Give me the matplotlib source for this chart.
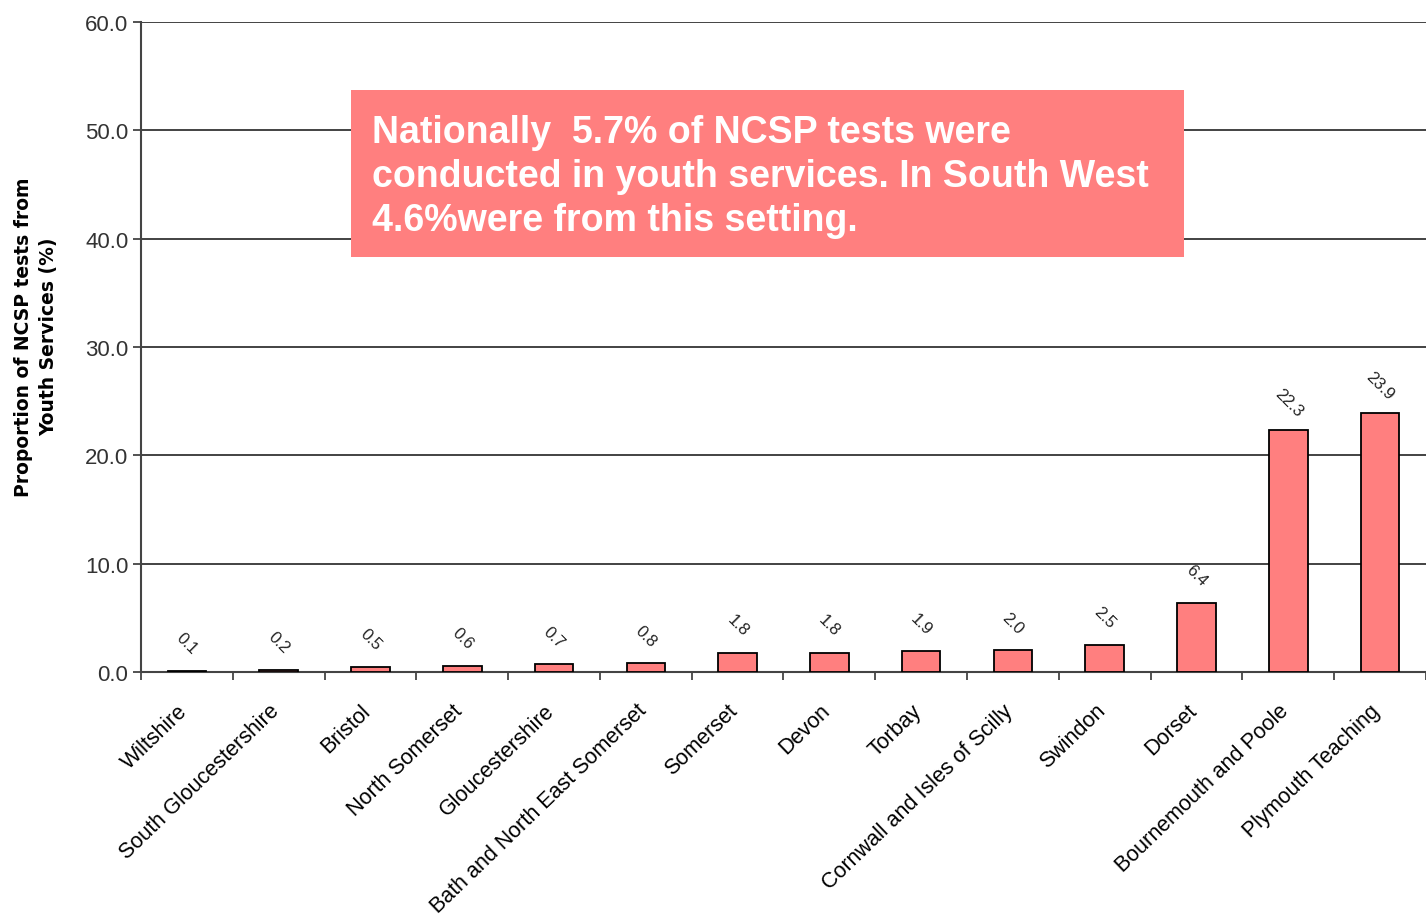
import numpy as np
import matplotlib
matplotlib.use('Agg')
import matplotlib.pyplot as plt

areas = ['Wiltshire', 'South Gloucestershire', 'Bristol', 'North Somerset',
         'Gloucestershire', 'Bath and North East Somerset', 'Somerset', 'Devon',
         'Torbay', 'Cornwall and Isles of Scilly', 'Swindon', 'Dorset',
         'Bournemouth and Poole', 'Plymouth Teaching']
values = [0.1, 0.2, 0.5, 0.6, 0.7, 0.8, 1.8, 1.8, 1.9, 2.0, 2.5, 6.4, 22.3, 23.9]
yticks = [0, 10, 20, 30, 40, 50, 60]
note = ('Nationally  5.7% of NCSP tests were\n'
        'conducted in youth services. In South West\n'
        '4.6%were from this setting.')

plt.rcParams['font.family'] = ['Liberation Sans', 'DejaVu Sans']

W, H = 1426, 920
fig = plt.figure(figsize=(W / 100, H / 100), dpi=100)
left, right, top, bottom = 141, 1426, 23, 673
ax = fig.add_axes([left / W, 1 - bottom / H, (right - left) / W, (bottom - top) / H])

x = np.arange(len(areas))
ax.bar(x, values, width=0.42, color='#FF7F7F', edgecolor='black', linewidth=1.3, zorder=3)

for xi, v in zip(x, values):
    ax.annotate('%.1f' % v, (xi, v), xytext=(0, 20), textcoords='offset points',
                rotation=-45, ha='center', va='center', fontsize=12, color='#222222',
                rotation_mode='anchor')

step = 93.2
ax.set_xlim(-0.5, -0.5 + (right - left) / step)
ax.set_ylim(0, 60)
ax.set_yticks(yticks)
ax.set_yticklabels(['%.1f' % t for t in yticks], fontsize=16, color='#333333')
ax.set_xticks(np.arange(len(areas) + 1) - 0.5, minor=False)
ax.set_xticklabels([])
# labels sit a little left of the bar centre, as in the original
ax.set_xticks(x - 0.11, minor=True)
ax.set_xticklabels(areas, minor=True, rotation=44, ha='right', rotation_mode='anchor',
                   fontsize=15.5)
ax.tick_params(axis='x', which='minor', length=0, pad=20)
ax.tick_params(axis='x', which='major', length=6, width=1.3, color='#444444')
ax.tick_params(axis='y', length=6, width=1.3, color='#444444', pad=3)

ax.yaxis.grid(True, color='#222222', linewidth=1.2, zorder=0)
ax.set_axisbelow(True)
for s in ['top', 'right']:
    ax.spines[s].set_visible(False)
for s in ['left', 'bottom']:
    ax.spines[s].set_color('#444444')
    ax.spines[s].set_linewidth(1.5)

fig.text(36 / W, 1 - 337 / H, 'Proportion of NCSP tests from\nYouth Services (%)',
         rotation=90, ha='center', va='center', fontsize=13.5, fontweight='bold',
         multialignment='center', family='DejaVu Sans', linespacing=1.4)

# annotation box
bx0, bx1, by0, by1 = 351, 1184, 91, 258
box = plt.Rectangle((bx0 / W, 1 - by1 / H), (bx1 - bx0) / W, (by1 - by0) / H,
                    transform=fig.transFigure, facecolor='#FF7F7F', edgecolor='none',
                    zorder=5)
fig.add_artist(box)
fig.text(372 / W, 1 - 177 / H, note, ha='left', va='center', color='white',
         fontsize=27, fontweight='bold', linespacing=1.3, zorder=6)

fig.savefig('out.png', dpi=100)
